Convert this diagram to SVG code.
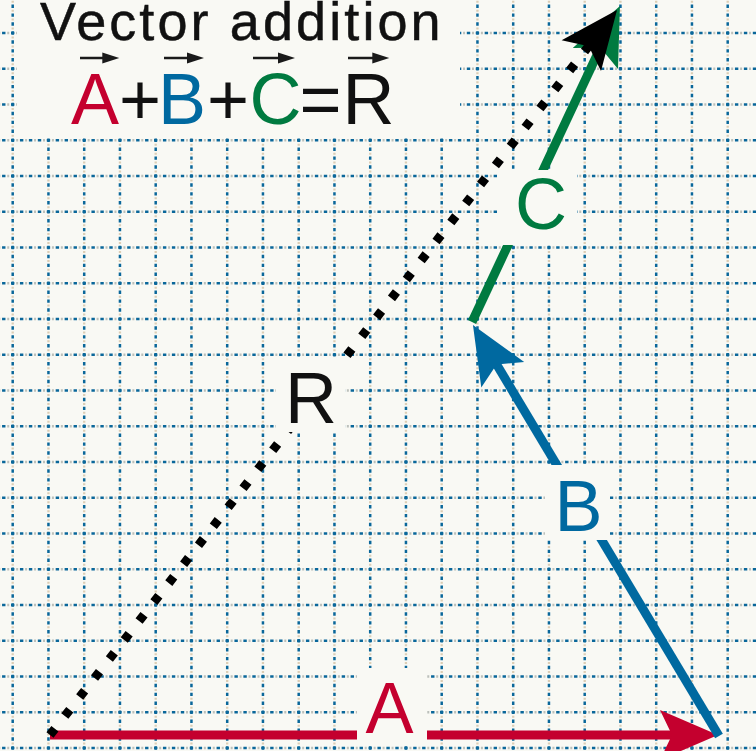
<svg xmlns="http://www.w3.org/2000/svg" width="756" height="751" viewBox="0 0 756 751">
<style>
.bg{fill:#f9f9f4}
.hb{fill:none;stroke:#0a679a;stroke-width:2.5;stroke-dasharray:3.4 5.5375;stroke-dashoffset:6.875}
.hg{fill:none;stroke:#bcc0bb;stroke-width:2.3;stroke-dasharray:2 6.9375;stroke-dashoffset:1.7075}
.vb{fill:none;stroke:#0a679a;stroke-width:2.5;stroke-dasharray:3.4 5.5375;stroke-dashoffset:4.45}
.vg{fill:none;stroke:#dccdb4;stroke-width:2.3;stroke-dasharray:2 6.9375;stroke-dashoffset:8.2175}
.lbl{font-family:"Liberation Sans",Arial,Helvetica,sans-serif;font-size:72px;text-anchor:middle}
.vec{fill:none;stroke-width:9;stroke-linecap:butt}
</style>
<defs>
<marker id="hA" markerUnits="userSpaceOnUse" viewBox="-20 -27 62 54" refX="0" refY="0" markerWidth="62" markerHeight="54" orient="auto" overflow="visible"><path d="M40,0 L-18,-25 L-6,0 L-18,25 Z" fill="#c4002e"/></marker>
<marker id="hB" markerUnits="userSpaceOnUse" viewBox="-20 -27 62 54" refX="0" refY="0" markerWidth="62" markerHeight="54" orient="auto" overflow="visible"><path d="M40,0 L-18,-25 L-6,0 L-18,25 Z" fill="#0069a0"/></marker>
<marker id="hC" markerUnits="userSpaceOnUse" viewBox="-20 -27 62 54" refX="0" refY="0" markerWidth="62" markerHeight="54" orient="auto" overflow="visible"><path d="M40,0 L-18,-25 L-6,0 L-18,25 Z" fill="#007a40"/></marker>
<marker id="hR" markerUnits="userSpaceOnUse" viewBox="-20 -27 62 54" refX="0" refY="0" markerWidth="62" markerHeight="54" orient="auto" overflow="visible"><path d="M40,0 L-18,-25 L-6,0 L-18,25 Z" fill="#000"/></marker>
<marker id="hs" markerUnits="userSpaceOnUse" viewBox="-5 -6 19 12" refX="0" refY="0" markerWidth="19" markerHeight="12" orient="auto" overflow="visible"><path d="M13,0 L-4,-5.5 L-4,5.5 Z" fill="#1a1a1a"/></marker>
</defs>
<rect class="bg" x="0" y="0" width="756" height="751"/>
<g id="grid">
<path class="hg" d="M0,33H756M0,68.75H756M0,104.5H756M0,140.25H756M0,176H756M0,211.75H756M0,247.5H756M0,283.25H756M0,319H756M0,354.75H756M0,390.5H756M0,426.25H756M0,462H756M0,497.75H756M0,533.5H756M0,569.25H756M0,605H756M0,640.75H756M0,676.5H756M0,712.25H756M0,748H756"/>
<path class="vg" d="M12.7,0V751M48.45,0V751M84.2,0V751M119.95,0V751M155.7,0V751M191.45,0V751M227.2,0V751M262.95,0V751M298.7,0V751M334.45,0V751M370.2,0V751M405.95,0V751M441.7,0V751M477.45,0V751M513.2,0V751M548.95,0V751M584.7,0V751M620.45,0V751M656.2,0V751M691.95,0V751M727.7,0V751"/>
<path class="hb" d="M0,33H756M0,68.75H756M0,104.5H756M0,140.25H756M0,176H756M0,211.75H756M0,247.5H756M0,283.25H756M0,319H756M0,354.75H756M0,390.5H756M0,426.25H756M0,462H756M0,497.75H756M0,533.5H756M0,569.25H756M0,605H756M0,640.75H756M0,676.5H756M0,712.25H756M0,748H756"/>
<path class="vb" d="M12.7,0V751M48.45,0V751M84.2,0V751M119.95,0V751M155.7,0V751M191.45,0V751M227.2,0V751M262.95,0V751M298.7,0V751M334.45,0V751M370.2,0V751M405.95,0V751M441.7,0V751M477.45,0V751M513.2,0V751M548.95,0V751M584.7,0V751M620.45,0V751M656.2,0V751M691.95,0V751M727.7,0V751"/>
</g>
<g id="title">
<rect class="bg" x="17" y="0" width="443" height="138"/>
<text x="40" y="40" font-family="'Liberation Sans',Arial,Helvetica,sans-serif" font-size="54" letter-spacing="3.1" fill="#111" stroke="#111" stroke-width="0.5">Vector addition</text>
<text y="124" font-family="'Liberation Sans',Arial,Helvetica,sans-serif" font-size="72"><tspan x="71" fill="#c4002e">A</tspan><tspan x="119" fill="#111">+</tspan><tspan x="158" fill="#0069a0">B</tspan><tspan x="207" fill="#111">+</tspan><tspan x="249.5" fill="#007a40">C</tspan><tspan x="299.5" fill="#111">=</tspan><tspan x="342.5" fill="#111">R</tspan></text>
<g fill="none" stroke="#1a1a1a" stroke-width="2.5" marker-end="url(#hs)">
<path d="M80,58H106.3"/>
<path d="M164,58H191"/>
<path d="M253,58H282"/>
<path d="M348,58H376.3"/>
</g>
</g>
<g id="connectors">
<path id="vecA" class="vec" stroke="#c4002e" d="M50,735L678,735" marker-end="url(#hA)"/>
<path id="vecB" class="vec" stroke="#0069a0" d="M719,736L493.5,359.3" marker-end="url(#hB)"/>
<path id="vecC" class="vec" stroke="#007a40" d="M472,322L603,42.2" marker-end="url(#hC)"/>
<path id="vecR" class="vec" stroke="#000" stroke-width="8" stroke-dasharray="8 16.1" d="M50,735L592.4,41.5" marker-end="url(#hR)"/>
</g>
<g id="label-A"><rect class="bg" x="357" y="668" width="70" height="77"/><text class="lbl" x="389.5" y="733" fill="#c4002e">A</text></g>
<g id="label-B"><rect class="bg" x="545" y="465" width="65" height="75"/><text class="lbl" x="578.6" y="531" fill="#0069a0">B</text></g>
<g id="label-C"><rect class="bg" x="497" y="170" width="80" height="75"/><text class="lbl" x="541" y="229" fill="#007a40">C</text></g>
<g id="label-R"><rect class="bg" x="276" y="358" width="69" height="74"/><text class="lbl" x="311" y="423" fill="#111">R</text></g>
</svg>
